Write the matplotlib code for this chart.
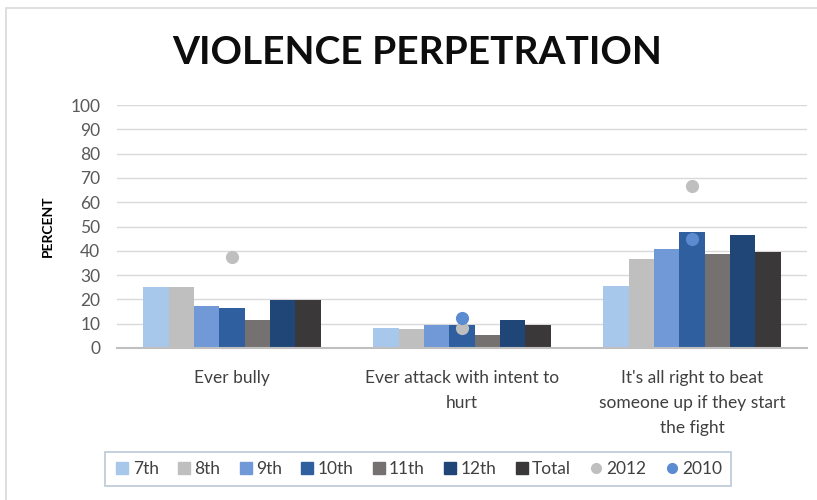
import matplotlib.pyplot as plt
import numpy as np
from matplotlib.patches import Rectangle
from matplotlib.lines import Line2D

categories = ["Ever bully",
              "Ever attack with intent to\nhurt",
              "It's all right to beat\nsomeone up if they start\nthe fight"]
grades = ["7th", "8th", "9th", "10th", "11th", "12th", "Total"]
grade_values = [
    [25.2, 8.1, 25.6],   # 7th
    [25.2, 8.0, 36.5],   # 8th
    [17.3, 9.5, 40.9],   # 9th
    [16.3, 9.5, 47.9],   # 10th
    [11.5, 5.3, 38.7],   # 11th
    [19.6, 11.5, 46.5],  # 12th
    [19.6, 9.5, 39.4],   # Total
]
year_labels = ["2012", "2010"]
year_values = [
    [37.6, 8.2, 66.8],          # 2012
    [np.nan, 12.3, 44.9],       # 2010
]

bar_colors = ["#a7c8ea", "#bfbfbf", "#7199d8", "#2f5f9f", "#767171", "#1f4676", "#3a3838"]
dot_colors = ["#bfbfbf", "#5b8bd0"]

plt.rcParams['font.family'] = ['Lato', 'DejaVu Sans']

fig = plt.figure(figsize=(8.17, 5.0), dpi=100)
fig.patches.append(Rectangle((6 / 817, -0.01), 1.2, 1 - 8 / 500 + 0.01, transform=fig.transFigure,
                             fill=False, edgecolor="#d9d9d9", linewidth=1.2))

ax = fig.add_axes([117 / 817, 1 - 348 / 500, 690 / 817, 243 / 500])

x = np.arange(len(categories))
width = 0.11
for i, (g, vals) in enumerate(zip(grades, grade_values)):
    off = (i - 3) * width
    ax.bar(x + off, vals, width, color=bar_colors[i], label=g, zorder=2)

for j, (lab, vals) in enumerate(zip(year_labels, year_values)):
    ax.scatter(x, vals, s=90, color=dot_colors[j], zorder=3 + j, label=lab, linewidths=0)

ax.set_xlim(-0.5, 2.5)
ax.set_ylim(0, 100)
ax.set_yticks(range(0, 101, 10))
ax.set_xticks(x)
ax.set_xticklabels(categories, fontsize=12.5, color="#404040", linespacing=1.7)
ax.tick_params(axis='y', labelsize=12.5, labelcolor="#595959", length=0, pad=12)
ax.tick_params(axis='x', length=0, pad=16)
ax.grid(axis='y', color="#d9d9d9", linewidth=1, zorder=0)
for s in ["top", "right", "left"]:
    ax.spines[s].set_visible(False)
ax.spines["bottom"].set_color("#bfbfbf")
ax.spines["bottom"].set_linewidth(1.5)
ax.set_ylabel("PERCENT", fontsize=10, fontweight="bold", color="#000000", labelpad=12)

fig.text(0.51, 1 - 52 / 500, "VIOLENCE PERPETRATION", ha="center", va="center",
         fontsize=28, fontweight="bold", color="#0d0d0d")

handles = [Line2D([], [], marker='s', linestyle='none', markersize=8, color=c) for c in bar_colors]
handles += [Line2D([], [], marker='o', linestyle='none', markersize=7, color=c) for c in dot_colors]
leg = fig.legend(handles, grades + year_labels, loc="center", bbox_to_anchor=(418 / 817, 1 - 469 / 500),
                 ncol=9, fontsize=12.5, frameon=True, fancybox=False, handletextpad=0.1,
                 columnspacing=0.95, handlelength=1.0, borderpad=0.5)
leg.get_frame().set_edgecolor("#a9bccd")
leg.get_frame().set_linewidth(1.2)
for t in leg.get_texts():
    t.set_color("#404040")

fig.savefig("out.png", dpi=100)
